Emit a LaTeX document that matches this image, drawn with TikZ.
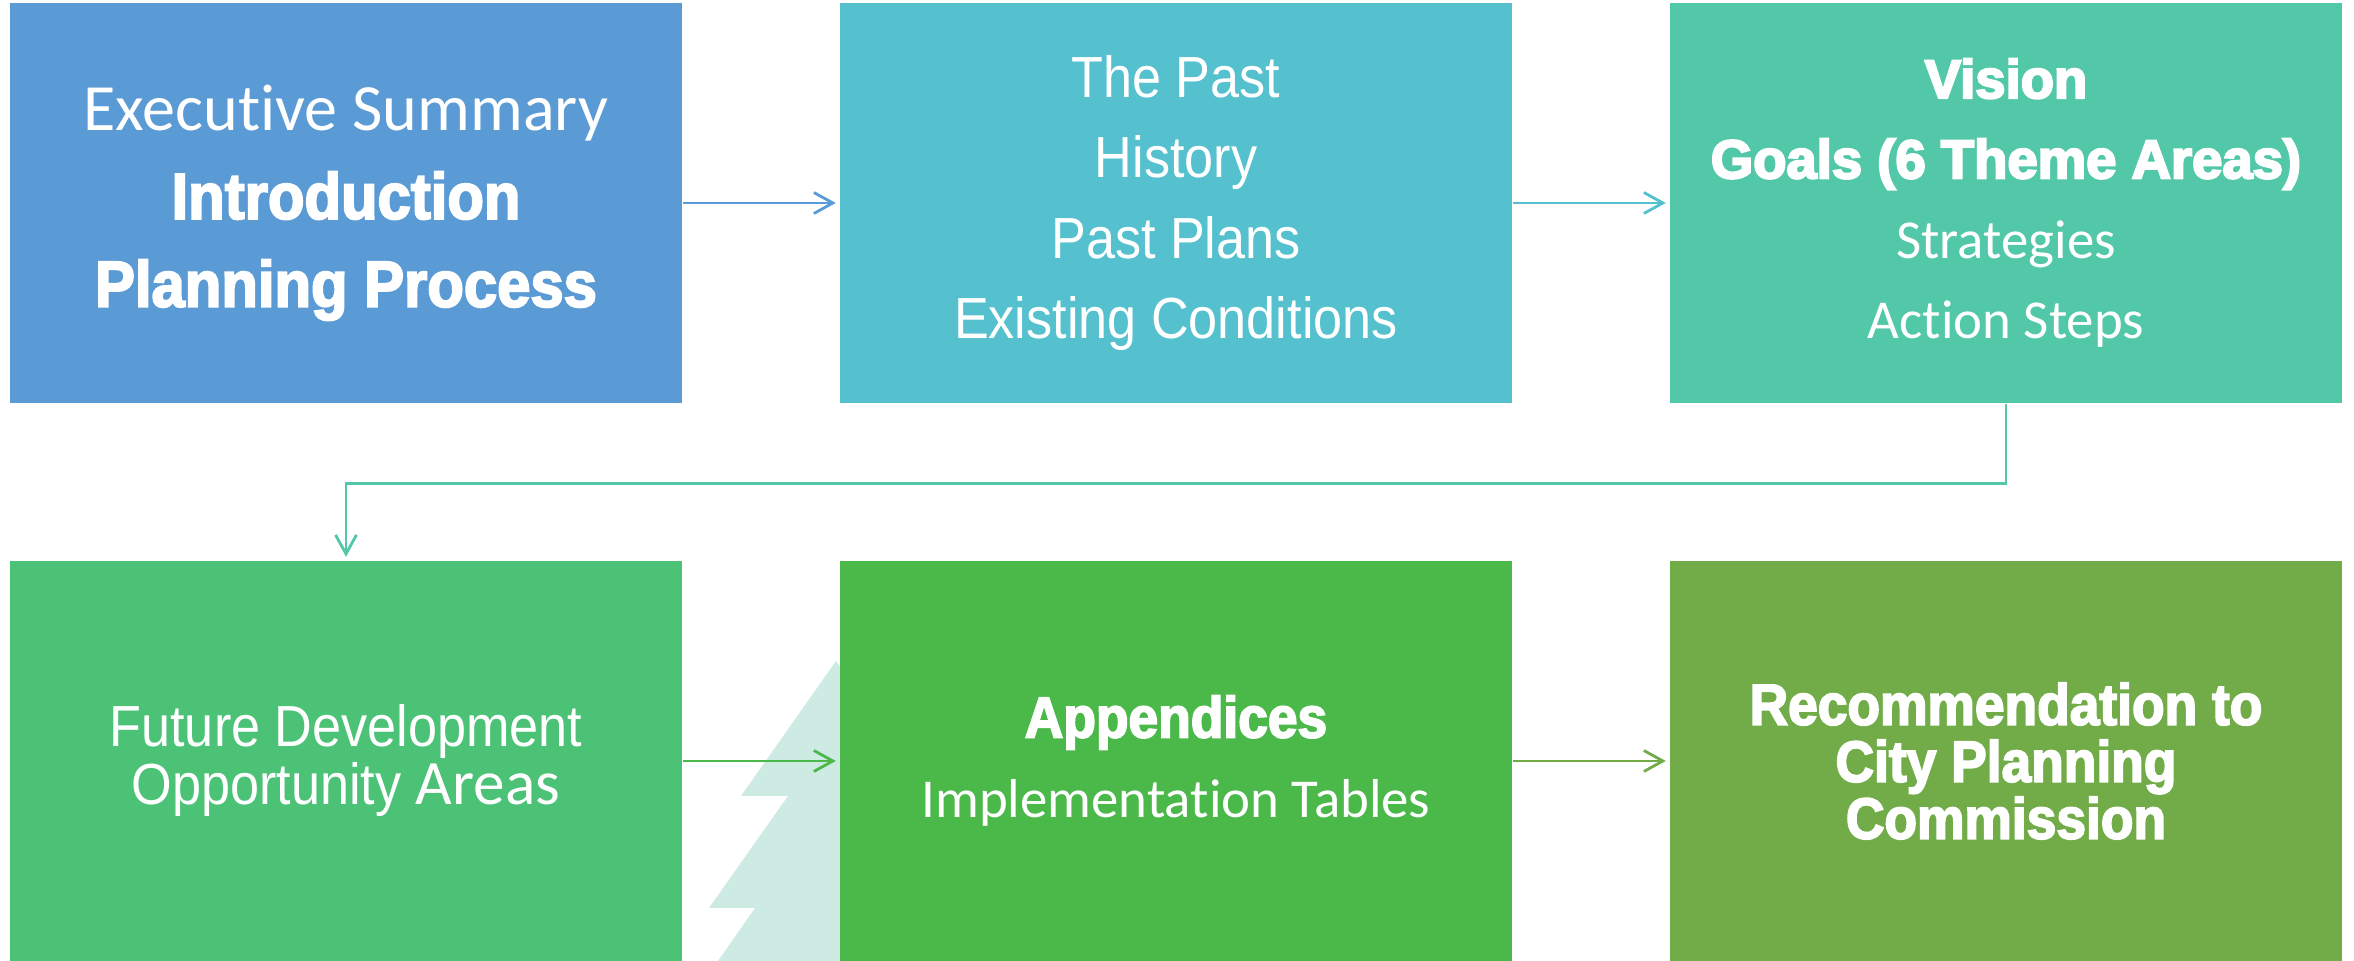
\documentclass[tikz,border=0pt]{standalone}
\usepackage{fontspec}
\setmainfont{Carlito}[Ligatures=NoCommon]
\newfontfamily\condfont{Liberation Sans}[FakeStretch=0.9]
\newfontfamily\heavyfont{Liberation Sans}[FakeStretch=0.92, BoldFeatures={FakeBold=3}]
\newfontfamily\blackfont{Liberation Sans}[BoldFeatures={FakeBold=4}]
\usetikzlibrary{arrows.meta}

\definecolor{execblue}{HTML}{5B9BD5}
\definecolor{pastcyan}{HTML}{55C1CF}
\definecolor{visionteal}{HTML}{52C8A9}
\definecolor{futuregreen}{HTML}{4CC276}
\definecolor{appgreen}{HTML}{4BB94A}
\definecolor{recgreen}{HTML}{71AC48}
\definecolor{treemint}{HTML}{CDEAE3}

\begin{document}
\begin{tikzpicture}

\tikzstyle{mybox}=[
  rectangle,
  minimum width=6.72cm,
  minimum height=4cm,
  inner sep=0pt,
  text=white,
  align=center]

\tikzstyle{myarrow}=[
  line width=0.8pt,
  shorten >=1pt,
  -{Straight Barb[length=1.9mm, width=2.1mm, line width=0.8pt]}]

% define points
\path
  (3.46,7.58) coordinate(P1)
  +(8.3,0) coordinate(P2)
  +(16.6,0) coordinate(P3)
  (3.46,2.0) coordinate(P4)
  +(8.3,0) coordinate(P5)
  +(16.6,0) coordinate(P6)
  ;

\useasboundingbox (0,0) rectangle (23.54,9.61);

% tree behind the boxes
\fill[treemint]
  (8.36,3.00) -- (7.41,1.65) -- (7.88,1.65) -- (7.09,0.53) -- (7.55,0.53)
  -- (7.18,0) -- (9.54,0) -- (9.17,0.53) -- (9.63,0.53) -- (8.84,1.65)
  -- (9.31,1.65) -- cycle;

\node[mybox, fill=execblue, font=\fontsize{18.8}{25}\selectfont] (Exec) at (P1)
  {Executive Summary\\
   {\heavyfont\bfseries\fontsize{18.5}{25}\selectfont Introduction}\\
   {\heavyfont\bfseries\fontsize{18.5}{25}\selectfont Planning Process}};

\node[mybox, fill=pastcyan, font=\condfont\fontsize{16.5}{22.8}\selectfont] (Past) at (P2)
  {The Past\\History\\Past Plans\\Existing Conditions};

\node[mybox, fill=visionteal, font=\fontsize{15.6}{22.8}\selectfont] (Vision) at (P3)
  {{\blackfont\bfseries\fontsize{15.5}{22.8}\selectfont Vision}\\
   {\blackfont\bfseries\fontsize{15.5}{22.8}\selectfont Goals (6 Theme Areas)}\\
   Strategies\\Action Steps};

\node[mybox, fill=futuregreen, font=\condfont\fontsize{16.5}{16.5}\selectfont] (Future) at (P4)
  {Future Development\\
   Opportunity {\rmfamily\fontsize{18}{16.5}\selectfont Areas}};

\node[mybox, fill=appgreen, font=\fontsize{15.6}{22.8}\selectfont] (Appendix) at (P5)
  {{\heavyfont\bfseries\fontsize{16.5}{22.8}\selectfont Appendices}\\
   Implementation Tables};

\node[mybox, fill=recgreen, font=\heavyfont\bfseries\fontsize{16.5}{16.2}\selectfont] (Recommend) at (P6)
  {Recommendation to\\City Planning\\Commission};

% draw lines
\draw[myarrow, execblue] (Exec) -- (Past);
\draw[myarrow, pastcyan] (Past) -- (Vision);
\draw[myarrow, visionteal] (Vision.south) -- ++(0,-0.8) -| (Future.north);
\draw[myarrow, appgreen] (Future) -- (Appendix);
\draw[myarrow, recgreen] (Appendix) -- (Recommend);

\end{tikzpicture}
\end{document}
